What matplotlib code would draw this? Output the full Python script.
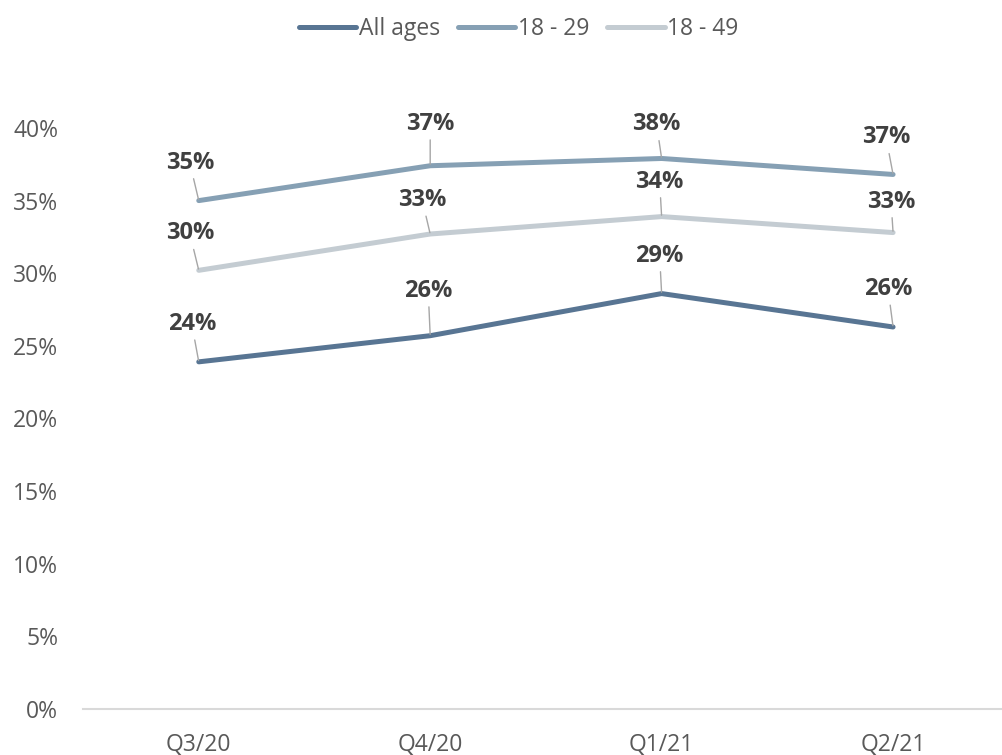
import matplotlib
matplotlib.use("Agg")
from matplotlib import pyplot as plt
from matplotlib.ticker import FuncFormatter

plt.rcParams['font.family'] = ['Open Sans', 'DejaVu Sans']
plt.rcParams['font.size'] = 16.5

quarters = ['Q3/20', 'Q4/20', 'Q1/21', 'Q2/21']
all_ages = [23.9, 25.7, 28.6, 26.3]
age_18_29 = [35.0, 37.4, 37.9, 36.8]
age_18_49 = [30.2, 32.7, 33.9, 32.8]

series = [
    ('All ages', all_ages, '#587593'),
    ('18 - 29', age_18_29, '#86a0b4'),
    ('18 - 49', age_18_49, '#c4ccd2'),
]

# label offsets (pixels) from each point, per series
offsets = [
    [(-7, 38), (-2, 45), (-2, 38), (-5, 38)],
    [(-9, 38), (0, 42), (-5, 34), (-7, 37)],
    [(-9, 37), (-8, 34), (-2, 35), (-2, 31)],
]

fig = plt.figure(figsize=(10.03, 7.55), dpi=100)
ax = fig.add_axes([0.0828, 0.0609, 0.9172, 0.7696])

x = range(len(quarters))
for (name, vals, col), offs in zip(series, offsets):
    ax.plot(x, vals, color=col, lw=3.6, solid_capstyle='round',
            solid_joinstyle='round', label=name)
    for xi, v, off in zip(x, vals, offs):
        ax.annotate(f'{v:.0f}%', xy=(xi, v), xytext=off, textcoords='offset pixels',
                    ha='center', va='center', fontsize=17, fontweight='bold',
                    color='#404040',
                    arrowprops=dict(arrowstyle='-', color='#a6a6a6', lw=1,
                                    shrinkA=1, shrinkB=1))

ax.set_xlim(-0.5, 3.475)
ax.set_ylim(0, 40)
ax.set_xticks(list(x))
ax.set_xticklabels(quarters)
ax.set_yticks(range(0, 41, 5))
ax.yaxis.set_major_formatter(FuncFormatter(lambda v, p: f'{v:.0f}%'))
ax.tick_params(length=0, colors='#595959', labelsize=16.5)
ax.tick_params(axis='x', pad=17)
ax.tick_params(axis='y', pad=18)

for s in ['top', 'right', 'left']:
    ax.spines[s].set_visible(False)
ax.spines['bottom'].set_color('#d9d9d9')
ax.spines['bottom'].set_linewidth(1.5)

leg = fig.legend(loc='upper center', bbox_to_anchor=(0.517, 1.005), ncol=3,
                 frameon=False, handlelength=2.5, handletextpad=0.1,
                 columnspacing=0.8, fontsize=16.5)
for t in leg.get_texts():
    t.set_color('#595959')

fig.savefig('out.png', dpi=100)
